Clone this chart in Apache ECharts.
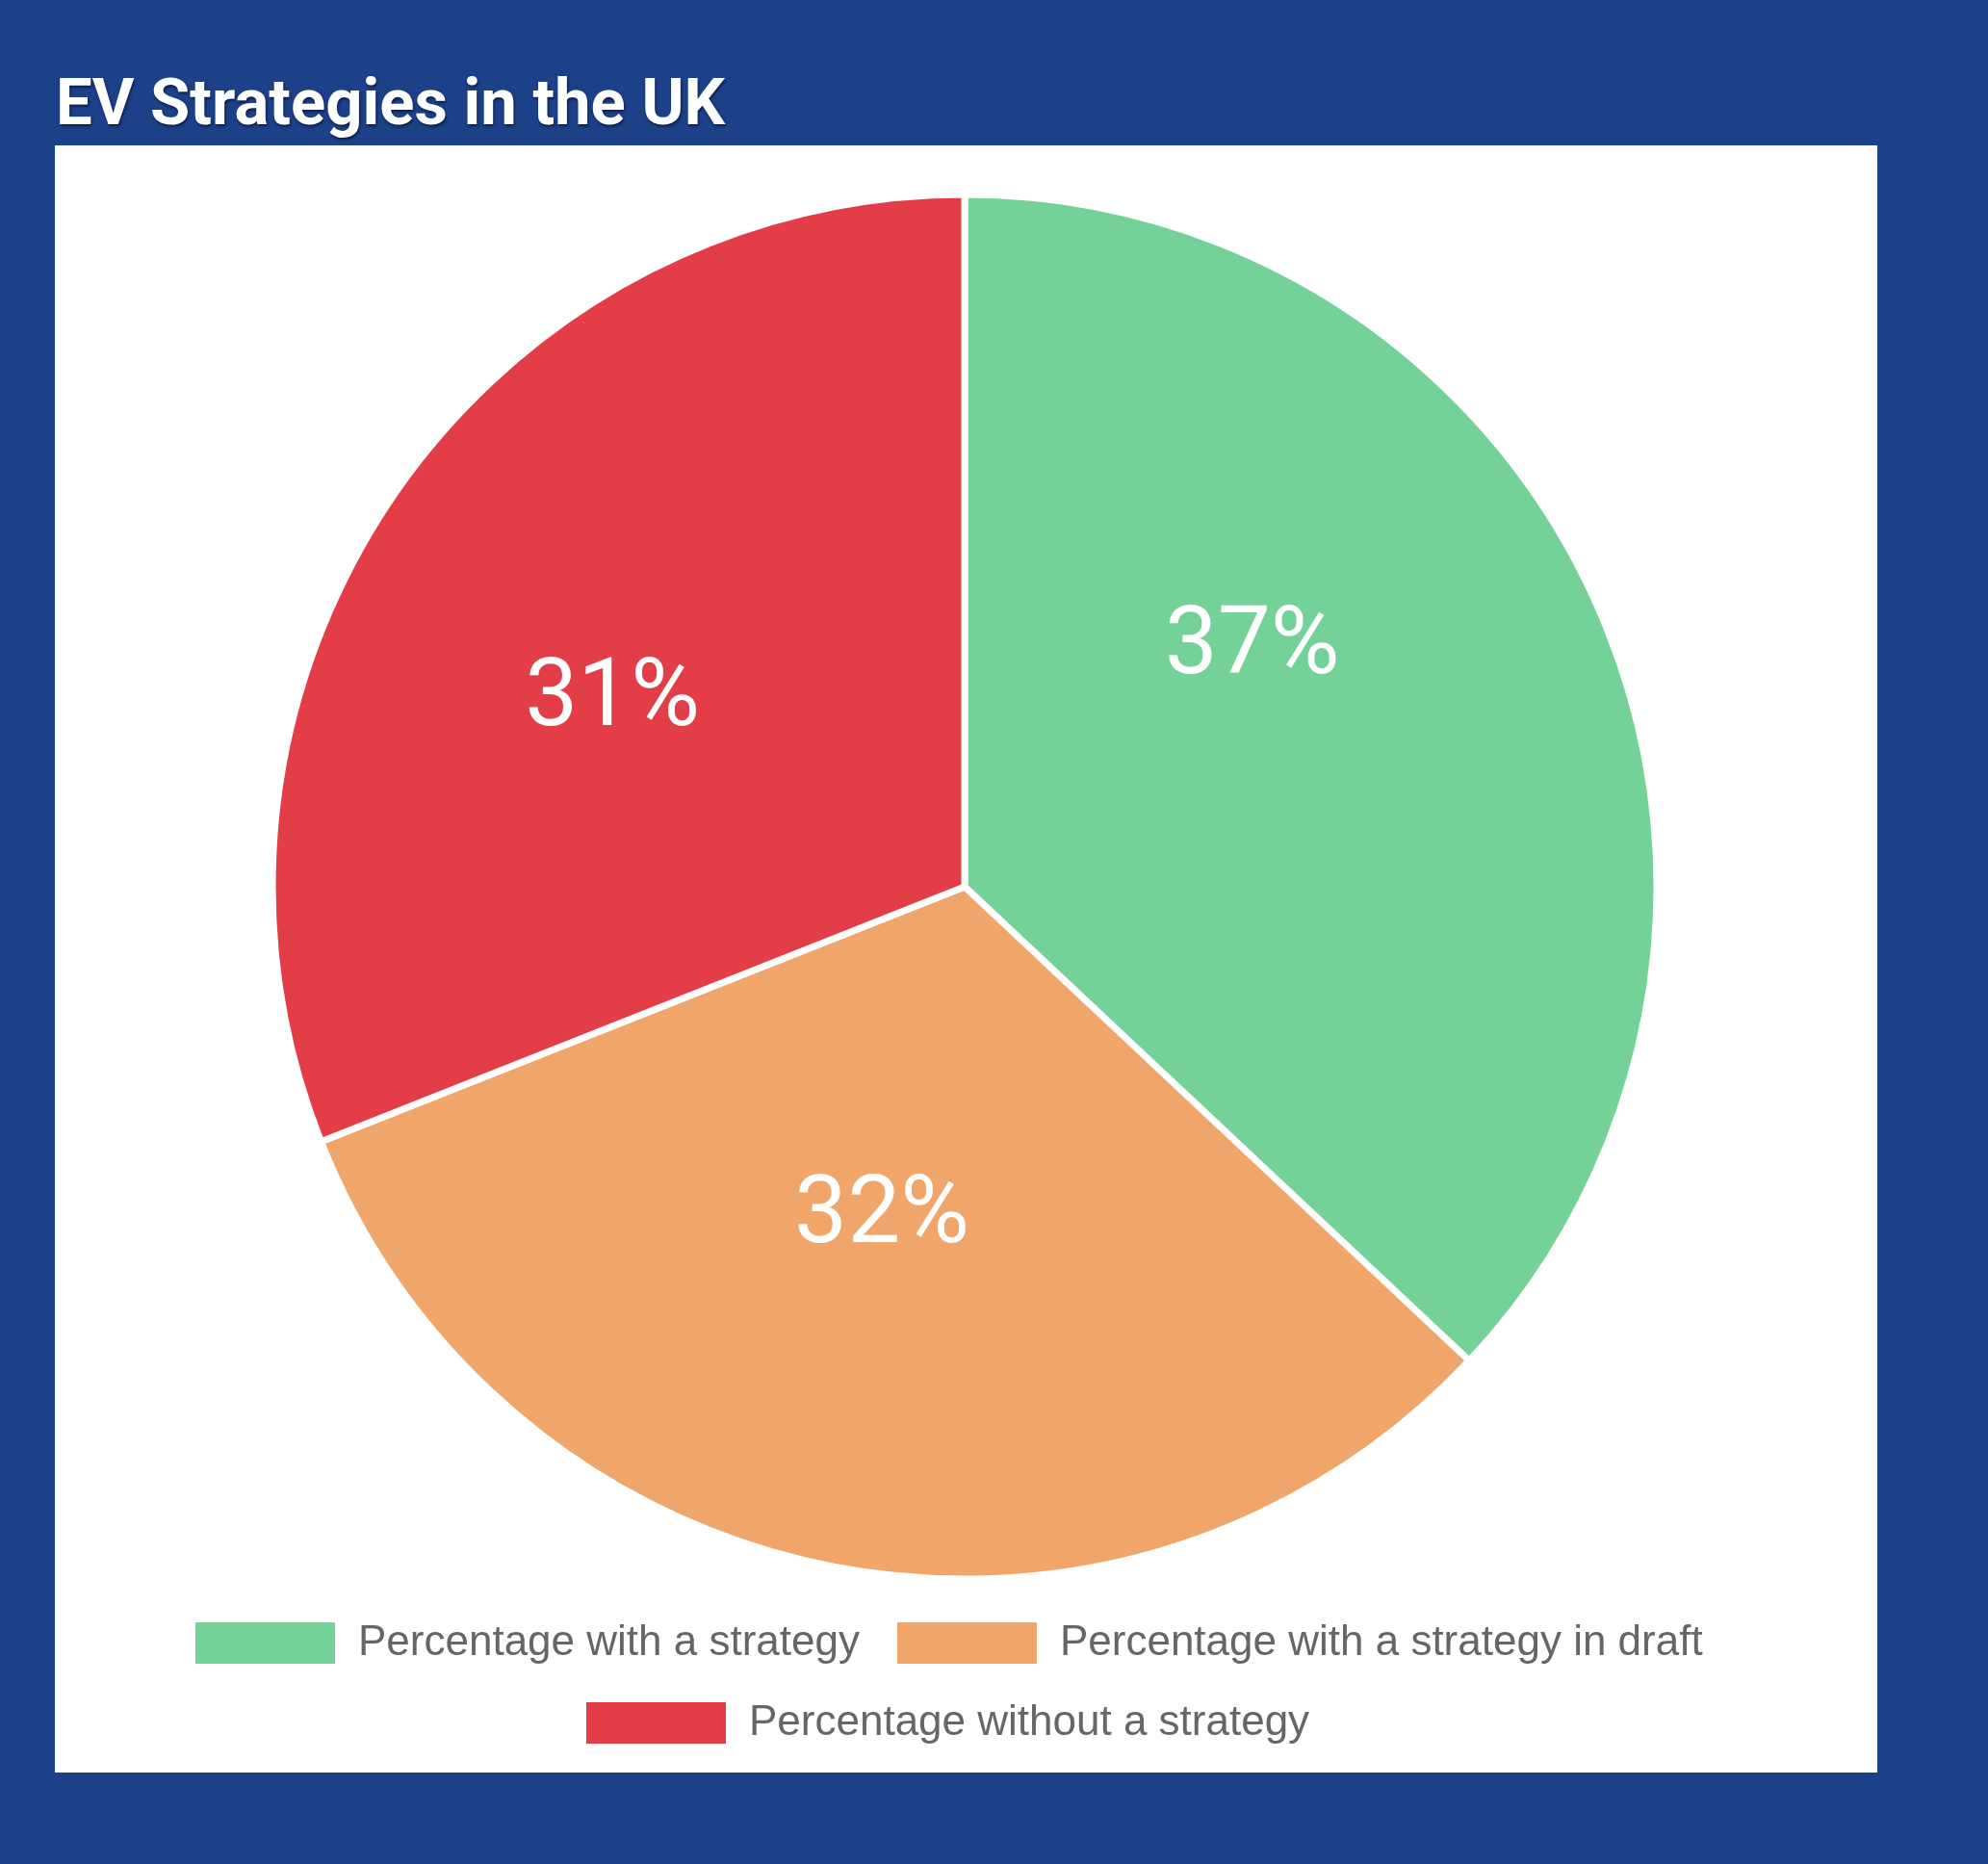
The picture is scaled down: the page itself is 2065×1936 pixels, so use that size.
<!DOCTYPE html>
<html>
<head>
<meta charset="utf-8">
<script src="https://cdn.jsdelivr.net/npm/echarts@6/dist/echarts.min.js"></script>
<style>
  html, body { margin: 0; padding: 0; background: #1c4189; }
  #chart { width: 2065px; height: 1936px; }
</style>
</head>
<body>
<div id="chart"></div>
<script>
const titleText = 'EV Strategies in the UK';
const categories = [
  'Percentage with a strategy',
  'Percentage with a strategy in draft',
  'Percentage without a strategy'
];
const values = [37, 32, 31];
const colors = ['#74d197', '#f0a66b', '#e33e48'];

// label nudges (style only) so labels sit where the reference draws them
const labelDx = [-34, -18, -66];
const labelDy = [-103, -12, 11];

const chart = echarts.init(document.getElementById('chart'), null, { renderer: 'canvas' });

const pieData = categories.map((name, i) => ({
  name: name,
  value: values[i],
  itemStyle: { color: colors[i] }
}));

const legendCommon = {
  orient: 'horizontal',
  itemWidth: 147,
  itemHeight: 45,
  itemGap: 37,
  icon: 'rect',
  textStyle: {
    fontFamily: 'Liberation Sans, Arial, sans-serif',
    fontSize: 44,
    color: '#666666',
    lineHeight: 45,
    padding: [0, 0, 0, 18]
  },
  selectedMode: false
};

chart.setOption({
  backgroundColor: '#1c4189',
  animation: false,
  title: {
    text: titleText,
    left: 58,
    top: 79,
    padding: 0,
    textStyle: {
      fontFamily: 'Roboto, sans-serif',
      fontWeight: 'bold',
      fontSize: 67,
      lineHeight: 67,
      color: '#ffffff',
      textShadowColor: 'rgba(0,0,30,0.6)',
      textShadowBlur: 3,
      textShadowOffsetX: 1,
      textShadowOffsetY: 2
    }
  },
  graphic: [{
    type: 'rect',
    z: -10,
    silent: true,
    shape: { x: 57, y: 151, width: 1893, height: 1690 },
    style: { fill: '#ffffff' }
  }],
  legend: [
    Object.assign({}, legendCommon, {
      data: categories.slice(0, 2),
      left: 201,
      top: 1683,
      padding: 0
    }),
    Object.assign({}, legendCommon, {
      data: categories.slice(2),
      left: 607,
      top: 1766,
      padding: 0
    })
  ],
  series: [{
    type: 'pie',
    center: [1002, 921],
    radius: 719,
    startAngle: 90,
    clockwise: true,
    avoidLabelOverlap: false,
    itemStyle: { borderColor: '#ffffff', borderWidth: 7 },
    label: {
      show: true,
      position: 'inside',
      formatter: '{c}%',
      fontFamily: 'Roboto, sans-serif',
      fontSize: 98,
      color: '#ffffff'
    },
    labelLine: { show: false },
    emphasis: { disabled: true },
    labelLayout: function (params) {
      return { dx: labelDx[params.dataIndex], dy: labelDy[params.dataIndex] };
    },
    data: pieData
  }]
});
</script>
</body>
</html>
